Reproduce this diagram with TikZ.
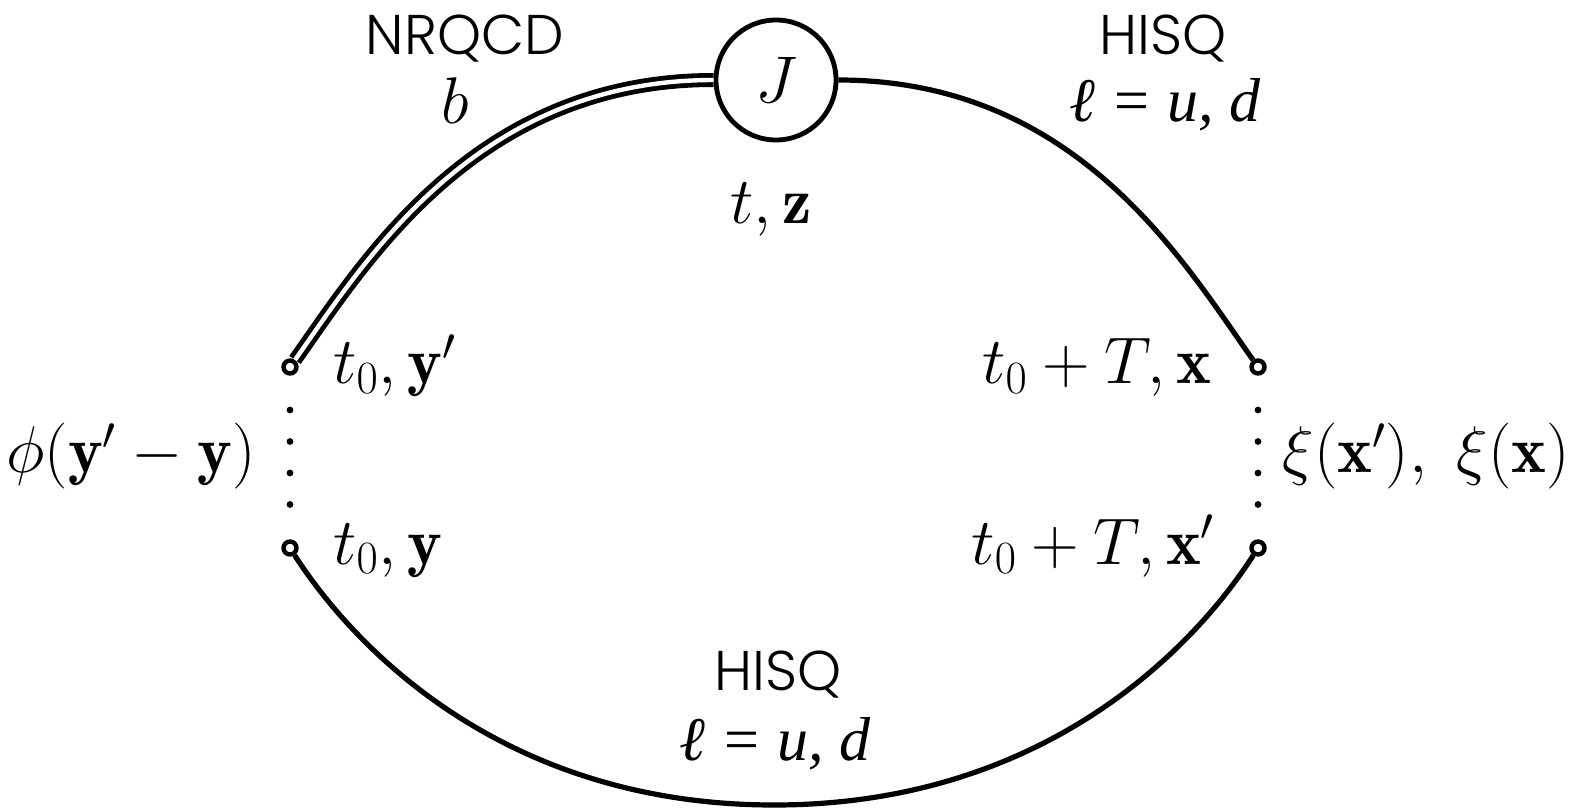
\RequirePackage{fix-cm}
\documentclass[tikz,border=0pt]{standalone}
\usepackage{amsmath}
\usepackage{fontspec}
\newfontfamily\hisqfont{Poppins}[UprightFont=* Light]
\newfontfamily\timesfont{Liberation Serif}
\begin{document}
\begin{tikzpicture}[x=0.5pt,y=-0.5pt,
  wire/.style={line width=2.6pt},
  dblwire/.style={line width=2.4pt,double,double distance=2.2pt},
  endpt/.style={circle,draw,line width=2.2pt,fill=white,inner sep=0pt,minimum size=6.5pt},
  vertex/.style={circle,draw,line width=2.4pt,fill=white,inner sep=0pt,minimum size=60pt},
  mlab/.style={inner sep=0pt,font=\fontsize{33}{40}\selectfont},
  slab/.style={inner sep=0pt,text depth=0pt,font=\fontsize{28}{34}\selectfont\hisqfont},
  tlab/.style={inner sep=0pt,font=\fontsize{31}{37}\selectfont\timesfont\itshape},
  dotline/.style={line width=3.4pt,line cap=round,dash pattern=on 0pt off 15.75pt}]
\useasboundingbox (0,0) rectangle (1574,812);

% endpoints and vertex
\node[vertex] (J) at (776,80) {};
\node[mlab] (Jlab) at (J.center) {$J$};
\node[endpt] (yp) at (290,367) {};
\node[endpt] (y) at (290,548) {};
\node[endpt] (x) at (1258,367) {};
\node[endpt] (xp) at (1258,548) {};
\coordinate (bot) at (774,805);

% propagators
\draw[dblwire] (yp) .. controls (365,261) and (476,80) .. (J.west);
\draw[wire] (J.east) .. controls (1076,80) and (1183,261) .. (x);
\draw[wire] (y) .. controls (355,649) and (505,805) .. (bot)
            .. controls (1043,805) and (1193,649) .. (xp);

% smearing dots
\coordinate (ld1) at (290,410);
\coordinate (ld2) at (290,506);
\coordinate (rd1) at (1258,410);
\coordinate (rd2) at (1258,506);
\draw[dotline] (ld1) -- (ld2);
\draw[dotline] (rd1) -- (rd2);

% labels
\node[slab,anchor=base] (nrqcd) at (465,55) {NRQCD};
\node[mlab,anchor=base] (blab) at (455,124) {$b$};
\node[slab,anchor=base] (hisqa) at (1163,55) {HISQ};
\node[tlab,anchor=base] (ella) at (1165,122) {ℓ = u, d};
\node[mlab,anchor=base] (tz) at (771,224) {$t,\mathbf{z}$};
\node[mlab,anchor=base west] (typ) at (333,384) {$t_0,\mathbf{y}'$};
\node[mlab,anchor=base west] (ty) at (333,564) {$t_0,\mathbf{y}$};
\node[mlab,anchor=base east] (tx) at (1212,384) {$t_0+T,\mathbf{x}$};
\node[mlab,anchor=base east] (txp) at (1215,564) {$t_0+T,\mathbf{x}'$};
\node[mlab,anchor=base west] (phi) at (6,473) {$\phi(\mathbf{y}'-\mathbf{y})$};
\node[mlab,anchor=base east] (xi) at (1570,473) {$\xi(\mathbf{x}'),\;\xi(\mathbf{x})$};
\node[slab,anchor=base] (hisqb) at (778,690) {HISQ};
\node[tlab,anchor=base] (ellb) at (775,760) {ℓ = u, d};
\end{tikzpicture}
\end{document}
